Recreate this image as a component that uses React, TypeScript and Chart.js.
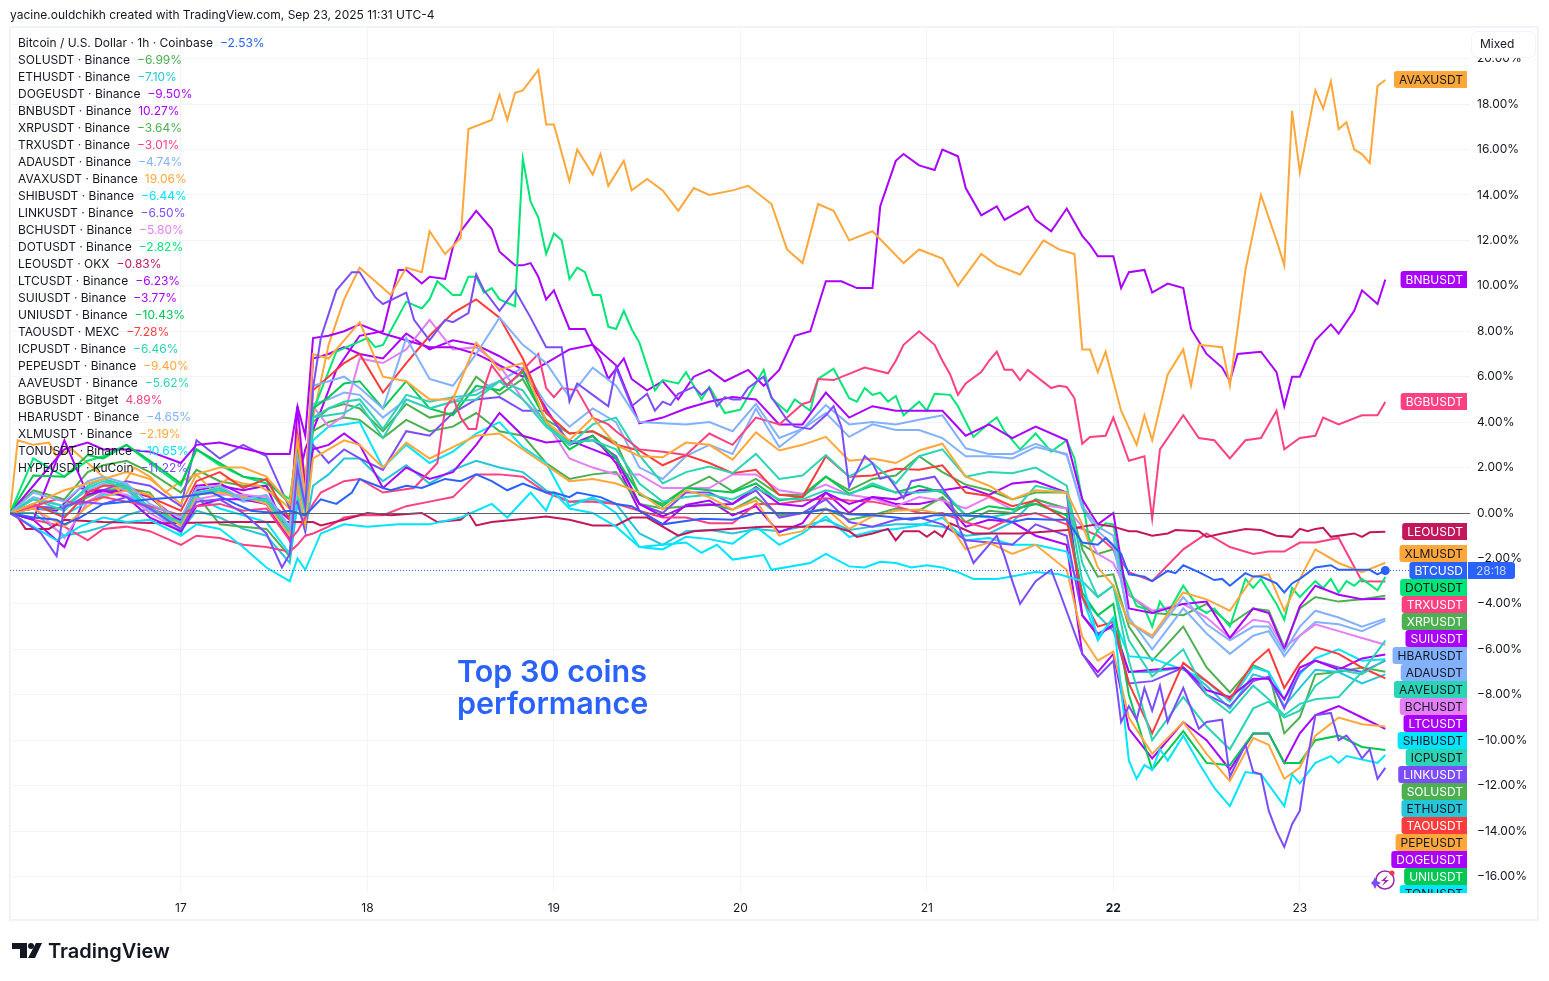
import React, { useEffect, useRef } from "react";
import { Chart, registerables } from "chart.js";

Chart.register(...registerables);

// Hours since the first bar. Day ticks fall on 17 .. 23 of the month.
const dayTicks = [22, 46, 70, 94, 118, 142, 166];
const dayLabels = ["17", "18", "19", "20", "21", "22", "23"];
const valueTicks = [-16, -14, -12, -10, -8, -6, -4, -2, 0, 2, 4, 6, 8, 10, 12, 14, 16, 18, 20];

const packHours = [
  0, 3, 7, 10, 12, 15, 18, 22, 24, 27, 30, 33, 36,
  37, 38, 39, 41, 43, 45,
  48, 51, 54, 57, 60, 63, 66, 69, 72, 75, 78,
  81, 84, 87, 90, 93, 96, 99, 102, 105, 108,
  111, 114, 117, 120, 123, 126, 129, 132, 136,
  138,
  140, 142, 144, 147,
  151, 154, 157, 160, 162, 164, 166, 168, 171, 174, 177,
];

const solValues = [
  0, 1.0, 0.6, 1.8, 2.1, 2.3, 1.8, 0.9, 1.9, 1.4, 1.2, 1.2, -0.2,
  3.0, 0.6, 4.0, 4.6, 4.8, 4.6,
  3.6, 4.8, 4.2, 4.4, 6.0, 5.2, 5.9, 4.1, 3.5, 3.6, 3.1,
  0.8, 0.4, 1.1, 1.6, 0.95, 1.5, 0.8, 0.8, 1.6, 1.0,
  1.5, 1.65, 2.5, 1.8, 1.25, 1.0, 0.6, 0.9, 0.9,
  -1.6,
  -2.8, -2.7, -5.0, -6.5,
  -5.0, -6.8, -7.9, -6.7, -7.0, -9.7, -9.0, -7.1, -7.0, -6.8, -6.99,
];
const ethValues = [
  0, 0.0, -1.0, -0.8, -0.6, -0.1, 0.2, -0.8, 0.1, -0.2, -0.7, -1.0, -2.2,
  0.4, -0.8, 1.2, 1.7, 2.4, 2.4,
  1.4, 2.1, 1.3, 1.9, 2.3, 2.0, 1.8, 1.0, 0.5, 0.6, 0.4,
  -0.9, -1.4, -0.8, -0.75, -0.9, -0.7, -0.8, -0.6, -0.3, -0.75,
  -0.6, -0.5, -0.5, -0.6, -1.0, -0.9, -0.4, 0.6, 0.2,
  -3.7,
  -4.5, -5.2, -7.0, -7.0,
  -6.8, -7.6, -8.6, -7.1, -7.3, -8.5, -7.7, -6.9, -7.0, -7.5, -7.1,
];
const dogeValues = [
  0, -0.3, -1.5, 1.0, 1.0, 1.0, 0.7, -0.4, 1.0, 1.2, 1.0, 1.2, -1.2,
  3.0, 0.8, 6.8, 7.0, 7.3, 7.0,
  6.8, 7.9, 7.2, 7.6, 7.4, 6.9, 6.3, 4.6, 3.0, 3.4, 2.2,
  0.1, -0.5, 0.35, 0.55, -0.1, 0.3, -0.85, -0.45, 0.9, 0.0,
  0.7, 0.4, 0.4, 0.6, -0.6, -0.3, -0.4, -1.0, -1.4,
  -6.2,
  -7.0, -6.2, -9.5, -10.8,
  -9.2, -10.0, -11.3, -9.7, -9.7, -11.0, -9.7, -8.9, -8.5, -9.0, -9.5,
];
const xrpValues = [
  0, 0.2, 0.2, 0.7, 1.0, 1.1, 0.9, -0.9, 0.8, -0.5, -0.6, -0.7, -1.9,
  2.2, 0.4, 3.6, 4.0, 4.2, 4.1,
  3.3, 4.1, 3.6, 3.8, 4.4, 3.6, 3.4, 2.2, 1.5, 1.7, 1.8,
  0.4, 0.2, 0.3, 0.4, 0.15, 0.7, -0.1, 0.0, 0.2, -0.3,
  -0.1, 0.2, 0.1, 0.7, -0.4, 0.1, 0.0, 0.6, 0.2,
  -1.4,
  -1.8, -1.6, -3.6, -4.4,
  -4.5, -4.0, -4.9, -4.2, -4.3, -5.9, -4.2, -3.7, -3.9, -3.8, -3.64,
];
const trxValues = [
  0, -0.3, -0.6, -1.2, -0.7, -0.6, -0.8, -1.4, -1.0, -1.1, -1.4, -1.5, -1.7,
  -1.4, -1.0, -0.9, -0.6, -0.2, -0.1,
  -0.1, 0.3, 0.5, 0.7, 1.7, 1.7, 1.6, 0.9, 0.5, 0.5, 0.4,
  0.1, -0.2, -0.2, -0.45, -0.45, 0.4, 0.4, 0.55, 0.65, 0.55,
  0.5, 0.3, 0.0, 0.0, -0.4, -0.7, -0.2, 0.0, -0.5,
  -0.7,
  -1.0, -1.6, -2.6, -3.0,
  -1.6, -0.9, -1.5, -1.8, -1.7, -1.7, -1.3, -1.3, -1.1, -3.0, -3.01,
];
const adaValues = [
  0, 0.7, 0.3, 1.0, 1.3, 1.0, 0.1, -0.5, 0.9, 1.0, 0.5, 0.6, -0.8,
  2.0, 0.4, 4.8, 5.0, 5.3, 5.2,
  4.2, 5.0, 4.6, 4.9, 5.4, 5.8, 6.4, 4.8, 3.8, 4.6, 4.0,
  2.0, 1.5, 2.5, 3.0, 2.6, 4.6, 2.9, 3.7, 4.4, 3.35,
  3.9, 3.65, 3.65, 3.3, 2.5, 2.5, 2.4, 2.9, 2.6,
  0.2,
  -0.8, -1.4, -4.6, -6.0,
  -4.2, -5.3, -6.2, -5.4, -5.2, -6.3, -5.4, -4.8, -4.9, -5.2, -4.74,
];
const hbarValues = [
  0, 0.9, 0.5, 1.4, 1.6, 1.3, 0.4, -0.2, 1.1, 1.2, 0.6, 0.8, -0.6,
  2.4, 0.5, 5.6, 5.8, 6.0, 5.5,
  4.6, 7.7, 5.9, 5.6, 7.0, 8.6, 7.4, 6.6, 5.1, 6.4, 5.6,
  4.0, 3.95, 3.9, 4.0, 3.6, 4.8, 3.3, 3.7, 4.75, 3.9,
  4.0, 3.9, 4.1, 4.3, 2.85, 2.6, 2.6, 3.05, 2.55,
  0.3,
  -0.6, -1.0, -4.8, -5.5,
  -3.7, -4.9, -5.6, -5.0, -5.0, -6.1, -5.0, -4.3, -4.6, -5.0, -4.65,
];
const shibValues = [
  0, 0.3, -0.1, 0.5, 0.8, 0.8, 0.3, -0.9, 0.7, 0.2, -0.1, -0.4, -1.8,
  0.8, -0.6, 3.2, 3.8, 3.9, 4.0,
  2.0, 3.0, 2.2, 2.7, 3.5, 4.0, 2.9, 2.2, 0.3, 0.7, 0.0,
  -1.5, -1.6, -1.05, -1.15, -1.35, -0.6, -1.4, -0.9, -0.15, -1.05,
  -0.8, -0.7, -0.55, -0.2, -1.2, -1.1, -1.4, -1.4, -1.7,
  -3.7,
  -5.6, -4.6, -6.3, -6.4,
  -6.9, -7.4, -8.3, -6.8, -7.0, -8.2, -7.1, -6.4, -6.0, -6.5, -6.44,
];
const linkValues = [
  0, 0.3, 0.2, 0.8, 1.0, 1.4, 1.2, 0.3, 3.2, 2.4, 3.0, 2.5, 0.2,
  0.5, -0.8, 3.0, 2.2, 2.8, 2.4,
  1.9, 3.6, 3.4, 4.4, 5.0, 5.1, 4.5, 4.5, 3.1, 3.2, 2.5,
  0.4, 0.0, 0.9, 0.9, 0.4, 1.0, -0.2, 0.0, 0.6, -0.4,
  -0.6, -0.3, -0.2, -0.5, -1.2, -1.3, -1.4, -0.5, -1.0,
  -4.5,
  -5.3, -5.0, -7.5, -7.4,
  -6.8, -8.0, -8.5, -7.4, -7.2, -8.6, -7.0, -6.5, -6.8, -7.0, -6.5,
];
const bchValues = [
  0, 0.3, -1.1, 0.5, 0.9, 0.8, 0.0, -0.8, 0.6, 0.8, 0.8, 0.7, -1.0,
  1.6, 0.2, 4.7, 3.8, 4.3, 6.8,
  6.6, 7.2, 8.5, 7.2, 7.3, 6.5, 5.0, 4.0, 2.4, 2.0, 1.7,
  1.7, 1.1, 1.1, 1.1, 1.7, 1.7, 1.0, 0.85, 1.25, 0.8,
  0.65, 0.3, 0.7, 0.55, 0.2, 0.7, 0.15, 0.4, 0.2,
  -0.6,
  -1.8, -2.2, -3.6, -4.3,
  -4.0, -4.6, -5.5, -4.7, -4.8, -5.9, -5.4, -4.9, -5.2, -5.5, -5.8,
];
const ltcValues = [
  0, -0.3, 3.2, 0.8, 1.0, 0.7, -0.2, -0.8, 0.3, 0.6, 0.6, 0.4, -1.2,
  4.7, 1.0, 2.8, 3.0, 3.5, 3.0,
  1.1, 2.0, 1.5, 1.8, 3.0, 4.4, 3.4, 3.1, 3.2, 2.8, 2.4,
  0.4, -0.15, 0.3, 0.35, 0.4, 1.15, 0.4, 0.3, 0.9, 0.4,
  0.7, 0.6, 1.0, 1.0, 1.15, 0.8, 1.3, 1.4, 0.9,
  -4.5,
  -5.4, -4.9, -7.0, -6.9,
  -6.8, -7.8, -8.1, -7.3, -7.3, -8.2, -6.8, -6.5, -6.9, -6.4, -6.23,
];
const suiValues = [
  0, 1.2, 2.8, 3.1, 2.8, 2.8, 2.7, 2.2, 3.0, 3.1, 2.85, 2.6, 2.6,
  4.7, 3.4, 7.7, 7.8, 8.0, 8.3,
  7.9, 7.6, 7.3, 7.3, 7.0, 6.5, 6.0, 6.6, 7.2, 7.4, 6.5,
  3.95, 4.2, 4.6, 4.9, 5.1, 5.0, 3.9, 3.9, 5.3, 4.2,
  4.7, 4.5, 4.5, 4.5, 3.4, 3.9, 3.3, 3.8, 3.2,
  0.6,
  -0.5, 0.0, -4.2, -4.4,
  -4.0, -3.9, -5.5, -4.2, -4.4, -6.0, -4.1, -3.2, -3.6, -3.8, -3.77,
];
const uniValues = [
  0, 1.65, 1.6, 2.55, 2.4, 3.0, 2.3, 1.3, 2.8, 2.2, 1.6, 1.45, 0.4,
  2.6, 0.7, 4.6, 5.1, 5.7, 5.8,
  4.6, 5.8, 4.6, 4.3, 5.6, 5.4, 6.2, 4.0, 2.8, 3.4, 2.4,
  0.85, 0.3, 1.1, 1.0, 0.9, 1.3, 0.55, 0.7, 1.6, 0.85,
  1.2, 0.9, 1.2, 0.9, -0.1, 0.3, 0.15, 0.4, -0.1,
  -3.5,
  -4.5, -4.0, -8.0, -11.3,
  -9.6, -11.0, -11.1, -9.7, -9.7, -11.0, -11.0, -10.0, -9.8, -10.3, -10.43,
];
const taoValues = [
  0, 0.4, -0.2, 0.9, 1.2, 1.2, 0.7, 0.1, 1.4, 1.8, 1.1, 1.5, -0.3,
  3.4, 0.7, 5.4, 6.0, 6.6, 7.0,
  5.3, 6.6, 7.8, 8.8, 9.4, 8.6, 6.8, 4.4, 3.5, 3.6, 3.0,
  2.75, 2.1, 2.55, 2.2, 1.75, 1.9, 0.8, 0.7, 2.5, 1.6,
  1.65, 1.95, 1.9, 2.1, 0.9, 0.75, 0.3, 0.55, -0.3,
  -3.7,
  -5.0, -4.8, -7.5, -9.7,
  -6.6, -7.4, -8.2, -6.6, -6.0, -7.7, -6.6, -5.9, -6.2, -6.8, -7.28,
];
const icpValues = [
  0, 0.6, 0.1, 1.2, 1.5, 1.2, 0.2, -0.5, 0.8, 1.0, 0.7, 0.5, -0.9,
  1.4, 0.0, 4.2, 4.3, 4.4, 4.8,
  3.3, 5.0, 4.6, 4.9, 5.0, 5.8, 5.4, 3.9, 3.1, 3.2, 2.8,
  1.3, 0.5, 0.7, 0.8, 0.6, 1.1, 0.6, 0.6, 1.0, 0.8,
  1.3, 0.9, 0.9, 1.0, -0.1, -0.2, 0.0, 1.2, 0.9,
  -3.0,
  -3.7, -3.2, -6.5, -10.0,
  -8.1, -9.4, -10.4, -8.6, -8.3, -9.0, -8.7, -7.6, -6.9, -7.1, -6.46,
];
const pepeValues = [
  0, 0.2, -0.6, 0.3, 0.7, 1.0, 0.8, -0.6, 0.8, 0.9, 0.7, 0.4, -1.0,
  1.2, -0.5, 2.4, 2.8, 3.2, 3.0,
  2.0, 3.1, 2.4, 2.9, 3.4, 3.5, 2.8, 2.1, 1.4, 1.5, 1.3,
  0.9, 0.15, 1.0, 0.7, 0.15, 0.55, -1.0, -0.8, 0.2, -0.7,
  -0.15, 0.1, 0.15, -0.05, -1.6, -1.3, -1.8, -1.4, -2.5,
  -5.45,
  -6.5, -6.1, -9.0, -10.6,
  -9.2, -10.6, -11.8, -9.9, -10.2, -11.7, -11.2, -9.8, -9.0, -9.3, -9.4,
];
const aaveValues = [
  0, 0.6, 0.3, 1.1, 1.4, 1.1, 0.2, -0.4, 0.9, 1.1, 0.6, 0.6, -0.7,
  1.8, 0.2, 4.2, 4.6, 4.9, 5.0,
  3.7, 5.2, 4.9, 5.1, 5.2, 5.8, 5.0, 3.8, 3.0, 3.9, 4.2,
  2.55, 1.3, 1.8, 2.05, 1.75, 2.6, 1.5, 1.65, 2.55, 1.6,
  2.2, 1.3, 2.5, 2.8, 1.6, 1.8, 1.75, 2.0, 1.2,
  -2.2,
  -3.7, -3.2, -5.6, -7.2,
  -6.0, -8.0, -8.8, -7.6, -8.2, -8.9, -8.4, -8.2, -8.1, -7.0, -5.62,
];
const xlmValues = [
  0, 0.4, 1.0, 1.3, 1.5, 1.8, 1.5, 0.4, 1.7, 2.0, 2.0, 1.6, 0.4,
  3.2, 0.8, 7.0, 6.8, 7.6, 8.4,
  6.0, 5.8, 5.0, 5.0, 7.5, 6.3, 6.6, 4.0, 3.2, 4.2, 3.0,
  2.5, 2.45, 3.1, 3.0, 2.35, 3.55, 2.75, 3.0, 3.35, 2.3,
  2.4, 2.2, 2.75, 3.05, 1.6, 1.2, 0.6, 1.0, 0.9,
  -0.5,
  -2.4, -3.2, -4.8, -5.4,
  -3.5, -3.8, -4.3, -2.8, -2.7, -4.3, -2.9, -1.6, -2.2, -2.6, -2.19,
];

// Series that stand apart from the pack are read as [hour, percent] pairs.
const avaxTrace = [[0,0],[1,3.2],[3,3.0],[5,3.1],[6,2.5],[8,2.8],[10,2.2],[12,1.6],[14,1.0],[16,2.0],[18,1.6],[20,0.9],[22,1.4],[24,1.7],[26,1.0],[28,1.5],[30,1.3],[32,1.2],[34,0.8],[36,0.2],[37,3.6],[38,1.6],[39,4.2],[41,7.4],[43,9.4],[45,10.8],[47,10.2],[49,9.6],[51,10.8],[53,10.6],[54,12.4],[56,11.4],[58,12.1],[59,16.9],[62,17.3],[63,18.4],[64,17.3],[65,18.5],[66,18.6],[68,19.5],[69,17.1],[70,17.1],[72,14.6],[73,16.0],[75,14.9],[76,15.8],[77,14.4],[79,15.5],[80,14.2],[82,14.7],[84,14.2],[86,13.3],[88,14.3],[90,14.0],[93,14.2],[95,14.4],[98,13.6],[100,11.6],[102,11.0],[104,13.6],[106,13.3],[108,12.0],[111,12.4],[115,11.0],[117,11.6],[120,11.2],[122,10.0],[125,11.4],[127,10.9],[130,10.5],[133,12.0],[135,11.6],[137,11.4],[138,7.2],[139,7.2],[140,6.2],[141,7.1],[143,4.5],[145,3.0],[146,4.3],[147,3.2],[149,6.1],[151,7.2],[152,5.6],[153,7.4],[156,7.3],[157,5.6],[159,10.7],[161,14.0],[163,12.0],[164,10.9],[165,17.7],[166,15.0],[168,18.6],[169,17.8],[170,19.0],[171,16.9],[172,17.2],[173,16.0],[174,15.8],[175,15.4],[176,18.8],[177,19.06]];
const bnbTrace = [[0,0],[3,0.2],[6,0.1],[9,1.1],[12,0.9],[15,1.0],[18,0.2],[22,-0.3],[24,1.2],[27,1.3],[30,0.8],[33,0.6],[36,-0.3],[38,2.8],[40,4.5],[42,6.3],[45,7.8],[48,8.0],[49,9.4],[50,10.7],[51,10.7],[53,10.1],[54,10.4],[56,10.3],[57,11.7],[58,12.4],[60,13.3],[62,12.5],[63,11.5],[65,10.9],[66,10.9],[67,11.0],[68,10.4],[69,9.4],[70,9.8],[72,8.1],[74,8.1],[75,7.4],[76,6.8],[77,5.9],[79,6.8],[80,5.9],[82,5.4],[84,5.8],[86,5.0],[88,6.0],[90,6.3],[92,5.8],[95,6.3],[97,5.6],[99,6.3],[101,7.8],[103,8.0],[105,10.2],[107,10.2],[109,9.9],[111,9.9],[112,13.5],[114,15.5],[115,15.8],[117,15.3],[119,15.1],[120,16.0],[122,15.7],[123,14.3],[125,13.1],[127,13.5],[128,12.9],[131,13.5],[132,12.9],[134,12.4],[136,13.4],[138,12.2],[139,11.8],[140,11.3],[142,11.3],[143,9.9],[144,10.6],[146,10.7],[147,9.7],[149,10.1],[151,9.9],[152,8.1],[154,7.0],[156,6.4],[157,5.8],[158,7.0],[161,7.1],[163,6.2],[164,4.7],[165,6.0],[166,6.0],[168,7.6],[170,8.3],[171,7.9],[173,8.9],[174,9.8],[176,9.2],[177,10.27]];
const bgbTrace = [[0,0],[3,0.3],[6,0.6],[9,0.4],[12,0.7],[15,0.5],[18,0.3],[22,-0.1],[24,0.3],[27,0.4],[30,0.1],[33,0.2],[36,-1.2],[37,-0.8],[39,0.4],[40,0.9],[43,1.4],[45,1.5],[48,0.9],[52,1.1],[55,2.2],[56,4.6],[57,5.1],[58,4.2],[59,3.7],[60,3.7],[61,5.5],[62,6.5],[64,5.6],[68,7.0],[69,5.5],[70,5.1],[71,5.5],[73,5.4],[75,4.2],[77,3.9],[78,3.6],[81,2.8],[84,2.7],[87,2.55],[90,3.5],[93,3.0],[96,4.2],[99,3.9],[102,4.8],[103,4.9],[104,5.9],[106,5.85],[110,6.4],[113,6.15],[114,6.7],[115,7.4],[117,8.0],[119,7.4],[120,6.7],[121,6.1],[122,5.2],[123,5.7],[125,6.2],[126,6.7],[127,7.1],[128,6.3],[129,6.3],[130,5.85],[131,6.3],[134,5.5],[135,5.6],[136,5.55],[137,5.05],[138,3.05],[139,3.35],[141,3.4],[142,4.2],[144,2.3],[146,2.5],[147,-0.25],[148,2.8],[151,4.3],[153,3.3],[155,3.2],[157,2.4],[159,3.2],[161,3.3],[163,4.5],[164,2.8],[166,3.3],[168,3.4],[169,4.2],[171,3.9],[174,4.3],[176,4.3],[177,4.89]];
const btcTrace = [[0,0],[3,-0.2],[6,-0.3],[7,-0.5],[9,-0.2],[12,0.4],[15,0.5],[18,0.6],[22,0.7],[26,0.9],[29,0.4],[31,0.1],[34,0.0],[36,0.1],[38,-0.1],[40,0.6],[42,0.4],[44,0.9],[45,1.5],[48,1.1],[49,1.0],[51,1.2],[53,1.1],[56,1.5],[58,1.4],[60,1.7],[62,1.4],[64,1.0],[66,1.3],[69,0.9],[70,0.9],[72,0.7],[73,0.9],[76,0.7],[78,0.4],[80,0.3],[82,-0.1],[84,-0.5],[89,-0.25],[93,-0.3],[96,0.0],[102,0.0],[105,0.15],[108,-0.05],[111,-0.1],[114,-0.2],[116,-0.3],[119,-0.1],[122,-0.1],[126,-0.15],[129,-0.4],[131,-0.25],[134,-0.3],[136,-0.3],[138,-1.3],[140,-1.4],[141,-1.1],[143,-1.8],[144,-2.7],[146,-2.8],[147,-3.0],[149,-2.55],[150,-2.65],[151,-2.3],[153,-2.6],[155,-2.95],[156,-2.9],[157,-3.2],[159,-2.65],[160,-2.8],[161,-2.8],[163,-3.1],[164,-3.5],[165,-3.1],[166,-2.9],[168,-2.4],[170,-2.3],[171,-2.5],[175,-2.5],[176,-2.7],[177,-2.53]];
const leoTrace = [[0,0],[1,-0.2],[2,-0.7],[5,-0.7],[7,-0.3],[12,-0.4],[20,-0.45],[29,-0.4],[36,-0.4],[39,-0.4],[40,-0.55],[43,-0.3],[46,0.0],[49,-0.1],[53,0.0],[55,-0.4],[58,-0.3],[59,0.0],[60,-0.55],[62,-0.4],[65,-0.3],[69,-0.15],[72,-0.3],[75,-0.55],[78,-0.55],[80,-0.2],[82,-0.2],[86,-1.0],[88,-0.8],[97,-0.6],[106,-0.6],[108,-0.8],[109,-1.05],[111,-0.9],[113,-0.7],[114,-1.2],[115,-0.8],[117,-0.8],[118,-1.05],[119,-0.8],[120,-1.05],[121,-0.45],[124,-0.9],[130,-0.9],[134,-0.8],[136,-0.75],[138,-0.6],[140,-0.5],[142,-0.6],[144,-0.8],[145,-0.8],[147,-1.0],[149,-0.9],[150,-0.75],[153,-0.8],[154,-1.05],[156,-0.9],[159,-0.7],[161,-0.75],[163,-1.0],[165,-1.05],[166,-0.7],[167,-0.8],[168,-0.7],[169,-0.65],[170,-1.05],[173,-0.9],[174,-1.05],[175,-0.85],[177,-0.83]];
const hypeTrace = [[0,0],[1,-0.2],[4,-0.9],[6,-1.9],[7,0.3],[9,0.5],[12,0.4],[15,0.7],[18,0.2],[22,-0.7],[24,0.5],[27,0.6],[30,0.0],[33,-0.9],[35,-2.4],[36,-1.8],[37,2.0],[38,0.3],[39,5.5],[40,7.7],[42,9.8],[44,10.6],[45,10.6],[47,9.5],[48,9.2],[51,9.7],[52,8.5],[54,7.6],[56,8.5],[57,8.4],[59,8.8],[60,10.5],[61,9.8],[63,8.9],[65,9.8],[67,8.6],[69,7.3],[71,7.3],[72,4.9],[73,5.7],[75,5.2],[77,4.7],[78,6.4],[80,4.7],[82,5.25],[83,4.5],[84,4.9],[85,4.75],[86,5.25],[88,5.55],[89,5.2],[90,5.5],[91,4.7],[92,5.1],[93,5.0],[94,5.0],[95,5.5],[97,6.0],[98,5.1],[100,4.1],[101,3.8],[103,3.7],[105,4.3],[106,4.7],[107,3.8],[108,1.15],[110,2.5],[111,2.2],[112,1.5],[113,1.6],[115,0.65],[116,1.4],[119,1.6],[121,0.6],[122,-0.5],[124,-2.2],[126,-1.4],[127,-1.0],[128,-1.9],[129,-3.0],[130,-4.0],[132,-3.0],[134,-2.5],[135,-3.4],[138,-6.2],[140,-7.2],[142,-6.5],[143,-9.2],[144,-8.5],[145,-9.1],[146,-7.7],[147,-8.7],[148,-7.6],[149,-9.2],[151,-7.7],[153,-9.5],[154,-9.2],[156,-9.1],[157,-11.6],[159,-10.2],[160,-11.4],[161,-11.5],[162,-13.1],[163,-14.0],[164,-14.7],[165,-13.7],[166,-13.1],[167,-10.8],[168,-8.9],[170,-8.8],[171,-10.0],[172,-9.8],[173,-10.2],[174,-10.8],[175,-10.4],[176,-11.7],[177,-11.22]];
const tonTrace = [[0,0],[3,-0.6],[6,-1.2],[9,-0.6],[12,-0.2],[15,-0.4],[18,-0.3],[22,-1.0],[24,-0.5],[27,-0.7],[30,-1.5],[33,-2.4],[35,-2.8],[36,-3.0],[37,-2.0],[38,-2.5],[40,-0.9],[43,-0.5],[46,-0.6],[50,-0.5],[54,-0.5],[58,-0.2],[60,0.1],[62,0.4],[64,-0.2],[67,0.9],[69,0.1],[70,0.9],[72,0.2],[75,0.0],[78,-0.6],[81,-1.5],[84,-1.4],[87,-1.3],[89,-1.75],[91,-1.4],[93,-2.05],[97,-1.85],[98,-2.5],[103,-2.2],[105,-1.8],[108,-2.35],[110,-2.4],[112,-2.15],[114,-2.2],[116,-2.4],[118,-2.3],[120,-2.4],[122,-2.6],[124,-2.9],[127,-2.9],[128,-2.85],[132,-2.6],[135,-2.7],[138,-3.0],[140,-5.5],[142,-4.6],[144,-10.9],[145,-11.7],[146,-11.1],[147,-11.3],[148,-10.4],[149,-10.9],[151,-9.8],[153,-11.0],[155,-12.1],[157,-12.9],[159,-11.4],[161,-11.5],[164,-12.9],[165,-11.5],[166,-11.9],[168,-11.0],[170,-10.7],[171,-11.0],[172,-10.7],[176,-11.0],[177,-10.65]];
const dotTrace = [[0,0],[3,2.4],[7,1.6],[10,2.3],[12,2.5],[15,3.0],[18,2.2],[22,1.2],[24,2.8],[27,2.1],[30,1.6],[33,1.3],[36,0.6],[37,3.0],[38,0.8],[39,4.5],[42,7.1],[46,7.7],[47,7.3],[48,7.4],[51,9.3],[53,9.0],[54,9.4],[55,10.2],[57,9.6],[58,9.6],[59,10.4],[60,10.4],[61,9.7],[62,9.9],[63,9.4],[65,9.1],[66,15.6],[67,13.7],[68,13.0],[69,11.4],[70,12.3],[71,12.0],[72,10.3],[73,10.8],[74,10.6],[75,9.6],[76,9.6],[77,8.2],[78,8.1],[79,8.9],[80,8.1],[81,7.5],[83,5.4],[84,5.85],[86,5.7],[87,6.2],[89,5.0],[90,5.55],[92,4.4],[94,4.55],[97,6.3],[98,5.05],[100,4.45],[101,5.0],[103,4.5],[104,5.9],[106,6.35],[108,5.05],[109,4.9],[110,5.5],[111,5.2],[112,5.3],[113,4.9],[114,5.15],[115,4.3],[117,4.9],[118,4.5],[119,5.25],[121,5.2],[122,4.7],[124,3.35],[126,3.95],[127,4.2],[128,3.6],[130,2.8],[132,3.5],[134,2.7],[136,3.2],[137,2.4],[138,0.6],[139,-1.4],[140,-0.75],[141,-0.45],[142,-0.5],[143,-2.5],[145,-4.1],[146,-4.2],[147,-5.0],[148,-3.9],[149,-4.4],[151,-3.2],[153,-4.2],[154,-4.4],[155,-4.2],[157,-5.0],[159,-2.9],[160,-3.3],[161,-2.9],[163,-4.0],[164,-4.7],[165,-3.3],[166,-3.7],[168,-3.0],[169,-3.3],[170,-2.9],[171,-3.5],[172,-3.0],[173,-3.2],[174,-2.9],[176,-3.4],[177,-2.82]];

const fromPack = (values: number[]) => values.map((y, i) => ({ x: packHours[i], y }));
const fromTrace = (trace: number[][]) => trace.map(([x, y]) => ({ x, y }));

const series = [
  { chip: "BTCUSD", label: "Bitcoin / U.S. Dollar · 1h · Coinbase", change: "−2.53%", color: "#2962ff", points: fromTrace(btcTrace) },
  { chip: "SOLUSDT", label: "SOLUSDT · Binance", change: "−6.99%", color: "#4caf50", points: fromPack(solValues) },
  { chip: "ETHUSDT", label: "ETHUSDT · Binance", change: "−7.10%", color: "#26c6da", points: fromPack(ethValues) },
  { chip: "DOGEUSDT", label: "DOGEUSDT · Binance", change: "−9.50%", color: "#aa00ff", points: fromPack(dogeValues) },
  { chip: "BNBUSDT", label: "BNBUSDT · Binance", change: "10.27%", color: "#aa00ff", points: fromTrace(bnbTrace) },
  { chip: "XRPUSDT", label: "XRPUSDT · Binance", change: "−3.64%", color: "#4caf50", points: fromPack(xrpValues) },
  { chip: "TRXUSDT", label: "TRXUSDT · Binance", change: "−3.01%", color: "#ff4081", points: fromPack(trxValues) },
  { chip: "ADAUSDT", label: "ADAUSDT · Binance", change: "−4.74%", color: "#82b1ff", points: fromPack(adaValues) },
  { chip: "AVAXUSDT", label: "AVAXUSDT · Binance", change: "19.06%", color: "#ffa73b", points: fromTrace(avaxTrace) },
  { chip: "SHIBUSDT", label: "SHIBUSDT · Binance", change: "−6.44%", color: "#00e5ff", points: fromPack(shibValues) },
  { chip: "LINKUSDT", label: "LINKUSDT · Binance", change: "−6.50%", color: "#7c4dff", points: fromPack(linkValues) },
  { chip: "BCHUSDT", label: "BCHUSDT · Binance", change: "−5.80%", color: "#e47ff7", points: fromPack(bchValues) },
  { chip: "DOTUSDT", label: "DOTUSDT · Binance", change: "−2.82%", color: "#00e676", points: fromTrace(dotTrace) },
  { chip: "LEOUSDT", label: "LEOUSDT · OKX", change: "−0.83%", color: "#c2185b", points: fromTrace(leoTrace) },
  { chip: "LTCUSDT", label: "LTCUSDT · Binance", change: "−6.23%", color: "#aa00ff", points: fromPack(ltcValues) },
  { chip: "SUIUSDT", label: "SUIUSDT · Binance", change: "−3.77%", color: "#aa00ff", points: fromPack(suiValues) },
  { chip: "UNIUSDT", label: "UNIUSDT · Binance", change: "−10.43%", color: "#00c853", points: fromPack(uniValues) },
  { chip: "TAOUSDT", label: "TAOUSDT · MEXC", change: "−7.28%", color: "#ff3b3b", points: fromPack(taoValues) },
  { chip: "ICPUSDT", label: "ICPUSDT · Binance", change: "−6.46%", color: "#2bd4b5", points: fromPack(icpValues) },
  { chip: "PEPEUSDT", label: "PEPEUSDT · Binance", change: "−9.40%", color: "#ffa73b", points: fromPack(pepeValues) },
  { chip: "AAVEUSDT", label: "AAVEUSDT · Binance", change: "−5.62%", color: "#2bd4b5", points: fromPack(aaveValues) },
  { chip: "BGBUSDT", label: "BGBUSDT · Bitget", change: "4.89%", color: "#ff4081", points: fromTrace(bgbTrace) },
  { chip: "HBARUSDT", label: "HBARUSDT · Binance", change: "−4.65%", color: "#82b1ff", points: fromPack(hbarValues) },
  { chip: "XLMUSDT", label: "XLMUSDT · Binance", change: "−2.19%", color: "#ffa73b", points: fromPack(xlmValues) },
  { chip: "TONUSDT", label: "TONUSDT · Binance", change: "−10.65%", color: "#00e5ff", points: fromTrace(tonTrace) },
  { chip: "HYPEUSDT", label: "HYPEUSDT · KuCoin", change: "−11.22%", color: "#7c4dff", points: fromTrace(hypeTrace) },
];

const chipStack = ["XLMUSDT", "BTCUSD", "DOTUSDT", "TRXUSDT", "XRPUSDT", "SUIUSDT", "HBARUSDT", "ADAUSDT", "AAVEUSDT", "BCHUSDT", "LTCUSDT", "SHIBUSDT", "ICPUSDT", "LINKUSDT", "SOLUSDT", "ETHUSDT", "TAOUSDT", "PEPEUSDT", "DOGEUSDT", "UNIUSDT", "TONUSDT"];
const chipAtValue = ["AVAXUSDT", "BNBUSDT", "BGBUSDT", "LEOUSDT"];
const darkChipText = ["AVAXUSDT", "XLMUSDT", "DOTUSDT", "HBARUSDT", "ADAUSDT", "AAVEUSDT", "BCHUSDT", "SHIBUSDT", "ICPUSDT", "ETHUSDT", "PEPEUSDT", "TONUSDT"];

const INK = "#131722";
const UI_FONT = "Inter, 'Liberation Sans', sans-serif";
const PLOT = { left: 10, right: 1470, top: 27, bottom: 893 };
const FRAME = { left: 10, right: 1538, top: 27, bottom: 920 };

const formatPercent = (v: number) => (v < 0 ? "−" : "") + Math.abs(v).toFixed(2) + "%";

function roundBox(ctx: CanvasRenderingContext2D, x: number, y: number, w: number, h: number, r: number | number[]) {
  ctx.beginPath();
  ctx.roundRect(x, y, w, h, r);
}

const overlayBehind = {
  id: "overlayBehind",
  beforeDraw(chart: any) {
    const { ctx } = chart;
    ctx.save();
    ctx.fillStyle = "#fff";
    ctx.fillRect(0, 0, chart.width, chart.height);
    ctx.strokeStyle = "#f0f3fa";
    ctx.lineWidth = 2;
    ctx.strokeRect(FRAME.left, FRAME.top, FRAME.right - FRAME.left, FRAME.bottom - FRAME.top);
    ctx.restore();
  },
};

const overlayFront = {
  id: "overlayFront",
  afterDatasetsDraw(chart: any) {
    const { ctx, scales } = chart;
    const zero = Math.round(scales.y.getPixelForValue(0)) + 0.5;
    const btc = scales.y.getPixelForValue(-2.53);
    ctx.save();
    ctx.strokeStyle = "#5d606b";
    ctx.lineWidth = 1;
    ctx.beginPath();
    ctx.moveTo(PLOT.left, zero);
    ctx.lineTo(PLOT.right, zero);
    ctx.stroke();
    ctx.strokeStyle = "#2962ff";
    ctx.setLineDash([1, 2]);
    ctx.beginPath();
    ctx.moveTo(PLOT.left, Math.round(btc) + 0.5);
    ctx.lineTo(1412, Math.round(btc) + 0.5);
    ctx.stroke();
    ctx.restore();
  },
  afterDraw(chart: any) {
    const { ctx, scales } = chart;
    const byChip = (name: string) => series.find((s) => s.chip === name)!;
    ctx.save();

    ctx.textBaseline = "middle";
    ctx.textAlign = "left";
    ctx.font = `12px ${UI_FONT}`;
    ctx.fillStyle = INK;
    ctx.fillText("yacine.ouldchikh created with TradingView.com, Sep 23, 2025 11:31 UTC-4", 10, 15.5);

    series.forEach((s, i) => {
      const y = 43 + i * 17;
      ctx.font = `12px ${UI_FONT}`;
      ctx.fillStyle = INK;
      ctx.fillText(s.label, 18, y);
      const w = ctx.measureText(s.label).width;
      ctx.fillStyle = s.color;
      ctx.fillText(s.change, 18 + w + 7, y);
    });

    const drawChip = (name: string, cy: number) => {
      ctx.font = `12px ${UI_FONT}`;
      const w = ctx.measureText(name).width + 9;
      const s = byChip(name);
      ctx.fillStyle = s.color;
      roundBox(ctx, 1467 - w, Math.round(cy - 8.5), w, 17, [3, 0, 0, 3]);
      ctx.fill();
      ctx.fillStyle = darkChipText.includes(name) ? INK : "#fff";
      ctx.fillText(name, 1467 - w + 5, Math.round(cy - 8.5) + 9);
    };

    ctx.save();
    ctx.beginPath();
    ctx.rect(PLOT.left, PLOT.top, PLOT.right - PLOT.left, PLOT.bottom - PLOT.top);
    ctx.clip();
    chipAtValue.forEach((name) => {
      const s = byChip(name);
      drawChip(name, scales.y.getPixelForValue(s.points[s.points.length - 1].y));
    });
    chipStack.forEach((name, i) => drawChip(name, 553.5 + i * 17));
    ctx.restore();

    // countdown box beside the BTC label
    ctx.fillStyle = "#2962ff";
    roundBox(ctx, 1468, 562, 47, 17, [0, 3, 3, 0]);
    ctx.fill();
    ctx.fillStyle = "#c3d2ff";
    ctx.fillText("28:18", 1476, 571);

    // annotation
    ctx.fillStyle = "#2962ff";
    ctx.font = `600 30.5px ${UI_FONT}`;
    ctx.fillText("Top 30 coins", 457, 672.5);
    ctx.fillText("performance", 457, 704.5);

    // scale mode button
    ctx.fillStyle = "#fff";
    ctx.fillRect(1471, 28, 66, 30);
    ctx.strokeStyle = "#f0f3fa";
    ctx.lineWidth = 1;
    roundBox(ctx, 1471.5, 31.5, 64, 26, 6);
    ctx.stroke();
    ctx.fillStyle = INK;
    ctx.font = `12px ${UI_FONT}`;
    ctx.fillText("Mixed", 1480, 44);

    // logo
    ctx.fillStyle = "#131722";
    ctx.font = `600 20px ${UI_FONT}`;
    ctx.fillText("TradingView", 48, 951.5);
    ctx.fillRect(12, 943, 15, 6);
    ctx.fillRect(20, 943, 7, 15);
    ctx.beginPath();
    ctx.arc(31, 946, 3, 0, Math.PI * 2);
    ctx.fill();
    ctx.beginPath();
    ctx.moveTo(36, 943);
    ctx.lineTo(42, 943);
    ctx.lineTo(35, 958);
    ctx.lineTo(28, 958);
    ctx.closePath();
    ctx.fill();

    // small badge in the plot corner
    ctx.strokeStyle = "#9c27b0";
    ctx.lineWidth = 1.5;
    ctx.beginPath();
    ctx.arc(1385, 880, 9, 0, Math.PI * 2);
    ctx.stroke();
    ctx.fillStyle = "#7c4dff";
    ctx.beginPath();
    ctx.moveTo(1375, 877);
    ctx.lineTo(1377, 881);
    ctx.lineTo(1381, 883);
    ctx.lineTo(1377, 885);
    ctx.lineTo(1375, 889);
    ctx.lineTo(1373, 885);
    ctx.lineTo(1371, 883);
    ctx.lineTo(1373, 881);
    ctx.closePath();
    ctx.fill();
    ctx.fillStyle = "#9c27b0";
    ctx.beginPath();
    ctx.moveTo(1388, 875);
    ctx.lineTo(1381, 881);
    ctx.lineTo(1385, 881);
    ctx.lineTo(1382, 886);
    ctx.lineTo(1389, 880);
    ctx.lineTo(1385, 880);
    ctx.closePath();
    ctx.fill();
    ctx.fillStyle = "#f23645";
    ctx.beginPath();
    ctx.arc(1392, 873, 2.5, 0, Math.PI * 2);
    ctx.fill();
    ctx.restore();
  },
};

export default function App() {
  const ref = useRef<HTMLCanvasElement | null>(null);
  useEffect(() => {
    const canvas = ref.current;
    if (!canvas) return;
    const lastIndex = series[0].points.length - 1;
    const chart = new Chart(canvas, {
      type: "line",
      data: {
        datasets: series.map((s, i) => ({
          label: s.chip,
          data: s.points,
          borderColor: s.color,
          backgroundColor: s.color,
          borderWidth: 2,
          tension: 0,
          order: i === 0 ? -100 : -i,
          pointRadius: i === 0 ? (c: any) => (c.dataIndex === lastIndex ? 3.5 : 0) : 0,
          pointHoverRadius: 0,
        })),
      },
      options: {
        animation: false,
        responsive: false,
        events: [],
        layout: {
          padding: { left: PLOT.left, right: 10, top: PLOT.top, bottom: 981 - 921 },
        },
        plugins: { legend: { display: false }, tooltip: { enabled: false } },
        scales: {
          x: {
            type: "linear",
            min: 0,
            max: (PLOT.right - PLOT.left) / 7.77,
            afterBuildTicks: (scale: any) => {
              scale.ticks = dayTicks.map((value) => ({ value }));
            },
            afterFit: (scale: any) => {
              scale.height = 921 - PLOT.bottom;
            },
            grid: { color: "#f3f4f7", drawTicks: false },
            border: { display: false },
            ticks: {
              autoSkip: false,
              maxRotation: 0,
              padding: 8,
              color: INK,
              font: (c: any) => ({
                family: UI_FONT,
                size: 12,
                weight: c.index === 5 ? "bold" : "normal",
              }),
              callback: (_v: any, i: number) => dayLabels[i],
            },
          },
          y: {
            position: "right",
            min: -(PLOT.bottom - 513) / 22.72,
            max: (513 - PLOT.top) / 22.72,
            afterBuildTicks: (scale: any) => {
              scale.ticks = valueTicks.map((value) => ({ value }));
            },
            afterFit: (scale: any) => {
              scale.width = 1539 - PLOT.right;
            },
            grid: { color: "#f3f4f7", drawTicks: false },
            border: { display: false },
            ticks: {
              autoSkip: false,
              padding: 7,
              color: INK,
              font: { family: UI_FONT, size: 12 },
              callback: (v: any) => formatPercent(Number(v)),
            },
          },
        },
      },
      plugins: [overlayBehind, overlayFront],
    } as any);
    return () => chart.destroy();
  }, []);

  return (
    <div style={{ position: "absolute", left: 0, top: 0, width: 1549, height: 981, overflow: "hidden" }}>
      <canvas ref={ref} width={1549} height={981} style={{ display: "block" }} />
    </div>
  );
}
